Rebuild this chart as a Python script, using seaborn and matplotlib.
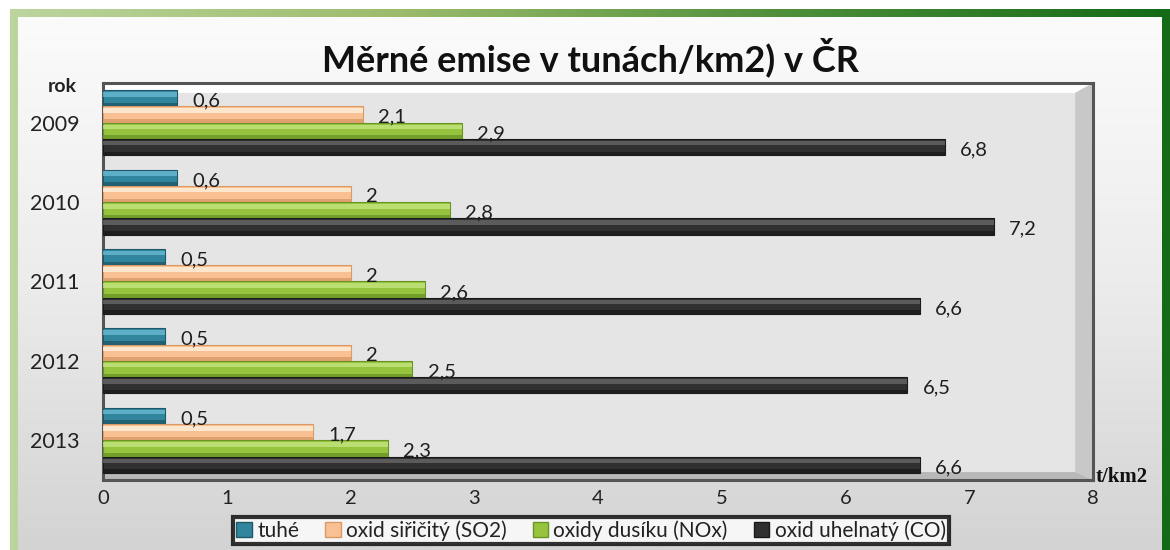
import numpy as np
import pandas as pd
import matplotlib
matplotlib.use("Agg")
import matplotlib.pyplot as plt
import seaborn as sns
from matplotlib.patches import Rectangle, Polygon
from matplotlib.colors import LinearSegmentedColormap

# ---- data ----
years = ["2009", "2010", "2011", "2012", "2013"]
series = ["tuhé", "oxid siřičitý (SO2)", "oxidy dusíku (NOx)", "oxid uhelnatý (CO)"]
tuhe = [0.6, 0.6, 0.5, 0.5, 0.5]
so2 = [2.1, 2.0, 2.0, 2.0, 1.7]
nox = [2.9, 2.8, 2.6, 2.5, 2.3]
co = [6.8, 7.2, 6.6, 6.5, 6.6]
x_ticks = [0, 1, 2, 3, 4, 5, 6, 7, 8]

values = [tuhe, so2, nox, co]
df = pd.DataFrame({
    "rok": [y for s in series for y in years],
    "serie": [s for s in series for _ in years],
    "hodnota": [v for vals in values for v in vals],
})

main_cols = ["#31869e", "#f9c193", "#96c43e", "#303030"]
light_cols = ["#6cbdd6", "#fff3e3", "#c8e886", "#6a6a6a"]
dark_cols = ["#1f5868", "#d99a66", "#6a9526", "#1a1a1a"]

sns.set_theme(style="white")
plt.rcParams["font.family"] = ["Lato", "DejaVu Sans"]

W, H = 1170, 550
fig = plt.figure(figsize=(W / 100, H / 100), dpi=100)
fig.patch.set_facecolor("white")

# ---- decorative background (pixel coordinates) ----
bg = fig.add_axes([0, 0, 1, 1], zorder=-10)
bg.set_xlim(0, W)
bg.set_ylim(H, 0)
bg.axis("off")
green = LinearSegmentedColormap.from_list("g", ["#bcd59e", "#9cbc6c", "#4f8f3a", "#146a17"])
grad_h = np.linspace(0, 1, 256)[None, :]
bg.imshow(grad_h, cmap=green, extent=(10, W, H, 9), aspect="auto", zorder=0)
grey = LinearSegmentedColormap.from_list("gr", ["#fbfbfb", "#ececec", "#d3d3d3"])
grad_v = np.linspace(0, 1, 256)[:, None]
bg.imshow(grad_v, cmap=grey, extent=(18, 1162, H, 17), aspect="auto", zorder=1)

# ---- main axes ----
ax = fig.add_axes([103 / W, 1 - 480 / H, (1093 - 103) / W, (480 - 83) / H])
ax.set_facecolor("#e5e5e5")

sns.barplot(data=df, y="rok", x="hodnota", hue="serie", order=years,
            hue_order=series, palette=main_cols, orient="h", width=0.82,
            gap=0, saturation=1, ax=ax, legend=False, linewidth=0, zorder=3)

bars = list(ax.patches)
n = len(years)
for i, p in enumerate(bars):
    k = i // n
    x0, y0 = p.get_x(), p.get_y()
    w, h = p.get_width(), p.get_height()
    p.set_edgecolor(dark_cols[k])
    p.set_linewidth(0.8)
    ax.add_patch(Rectangle((x0, y0 + h * 0.12), w, h * 0.28, facecolor=light_cols[k],
                           edgecolor="none", alpha=0.75, zorder=4))
    ax.add_patch(Rectangle((x0, y0 + h * 0.78), w, h * 0.22, facecolor=dark_cols[k],
                           edgecolor="none", alpha=0.8, zorder=4))
    lab = f"{w:.1f}".replace(".", ",")
    if lab.endswith(",0"):
        lab = lab[:-2]
    ax.annotate(lab, (x0 + w, y0 + h / 2), xytext=(11, -2), textcoords="offset points",
                ha="left", va="center", fontsize=14.5, color="#1e1e1e", zorder=6)

ax.set_xlim(0, 8)
ax.set_ylim(len(years) - 0.5, -0.5)
ax.set_xticks(x_ticks)
ax.set_xticklabels([str(t) for t in x_ticks], fontsize=14.5, color="#222222")
ax.tick_params(axis="x", length=5, direction="in", color="#9a9a9a", pad=7)
ax.tick_params(axis="y", length=0, pad=17, labelsize=15.5, labelcolor="#222222")
ax.set_xlabel("")
ax.set_ylabel("")
for s in ax.spines.values():
    s.set_visible(True)
    s.set_color("#555555")
    s.set_linewidth(2.2)

# bevel inside plot frame
ax.add_patch(Polygon([(0, 1), (1, 1), (0.982, 0.975), (0, 0.975)], closed=True,
                     transform=ax.transAxes, facecolor="#ffffff", edgecolor="none", zorder=1))
ax.add_patch(Polygon([(1, 1), (1, 0), (0.982, 0.02), (0.982, 0.975)], closed=True,
                     transform=ax.transAxes, facecolor="#c8c8c8", edgecolor="none", zorder=1))
ax.add_patch(Polygon([(0, 0), (1, 0), (0.982, 0.02), (0, 0.02)], closed=True,
                     transform=ax.transAxes, facecolor="#b8b8b8", edgecolor="none", zorder=1))

# ---- texts ----
fig.text(590 / W, 1 - 57 / H, "Měrné emise v tunách/km2) v ČR", ha="center", va="center",
         fontsize=26, fontweight="bold", color="#111111")
fig.text(62 / W, 1 - 86 / H, "rok", ha="center", va="center", fontsize=14,
         fontweight="bold", color="#222222")
fig.text(1096 / W, 1 - 477 / H, "t/km2", ha="left", va="center", fontsize=15,
         fontweight="bold", family=["Liberation Serif", "DejaVu Serif"], color="#111111")

# ---- legend ----
handles = [Rectangle((0, 0), 1, 1, facecolor=main_cols[k], edgecolor=dark_cols[k], linewidth=1)
           for k in range(len(series))]
leg = fig.legend(handles, series, loc="upper center", bbox_to_anchor=(591 / W, 1 - 517 / H),
                 ncol=4, fontsize=15, frameon=True, fancybox=False, handlelength=0.75,
                 handleheight=0.75, handletextpad=0.25, columnspacing=1.25, borderpad=0.15,
                 borderaxespad=0)
leg.get_frame().set_edgecolor("black")
leg.get_frame().set_linewidth(3)
leg.get_frame().set_facecolor("white")
for t in leg.get_texts():
    t.set_color("#222222")

fig.savefig("out.png", dpi=100)
